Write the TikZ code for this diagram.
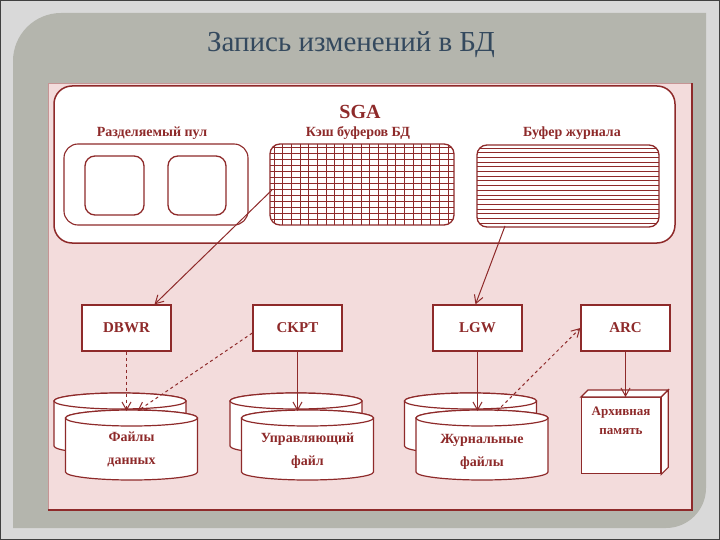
\documentclass[tikz,border=0pt]{standalone}
\usepackage{fontspec}
\setmainfont{Liberation Serif}
\usetikzlibrary{calc, positioning}
\usetikzlibrary{arrows.meta}

\definecolor{frameline}{HTML}{8E2A2A}
\definecolor{slidegray}{HTML}{B4B5AD}
\definecolor{slideedge}{HTML}{D9D9D9}
\definecolor{panelpink}{HTML}{F3DCDC}
\definecolor{titleblue}{HTML}{34495E}

\begin{document}
\begin{tikzpicture}[x=1pt, y=-1pt,
  proc/.style={draw=frameline, line width=1.3pt, fill=white, minimum width=89pt, minimum height=46pt, text=frameline, font=\bfseries\fontsize{15}{15}\selectfont},
  lbl/.style={text=frameline, font=\bfseries\fontsize{14}{23}\selectfont, align=center},
  disk/.style={draw=frameline, line width=1.2pt, fill=white},
  conn/.style={draw=frameline, line width=1pt, -{Straight Barb[length=8pt, width=9pt]}}]
\useasboundingbox (0,0) rectangle (720,540);
% slide background
\fill[slideedge] (0,0) rectangle (720,540);
\draw[gray!50!black, line width=1.5pt] (0,0) rectangle (720,540);
\fill[slidegray] (13,528) -- (13,61) arc[start angle=180, end angle=270, radius=48] -- (706,13) -- (706,488) arc[start angle=0, end angle=90, radius=40] -- cycle;
\node[text=titleblue, font=\fontsize{29}{29}\selectfont] (title) at (351,45) {Запись изменений в БД};
% pink panel
\fill[panelpink] (48,83) rectangle (692,510);
\draw[frameline!50, line width=0.6pt] (48,510) -- (48,83) -- (692,83);
\draw[frameline, line width=1.2pt] (48,510) -- (692,510) -- (692,83);
% SGA
\node[draw=frameline, line width=1.5pt, fill=white, rounded corners=18pt, minimum width=621pt, minimum height=157pt] (sga) at (364.5,164.5) {};
\node[lbl, font=\bfseries\fontsize{20}{20}\selectfont] (sgalabel) at (360,112) {SGA};
\node[lbl] (poollabel) at (152,133) {Разделяемый пул};
\node[lbl] (cachelabel) at (358,133) {Кэш буферов БД};
\node[lbl] (loglabel) at (572,133) {Буфер журнала};
\node[draw=frameline, line width=1.1pt, rounded corners=14pt, minimum width=184pt, minimum height=81pt] (pool) at (156,184.5) {};
\node[draw=frameline, line width=1.3pt, rounded corners=10pt, minimum width=59pt, minimum height=59pt] (poolA) at (114.5,185.5) {};
\node[draw=frameline, line width=1.3pt, rounded corners=10pt, minimum width=58pt, minimum height=59pt] (poolB) at (197,185.5) {};
\begin{scope}
\clip[rounded corners=10pt] (270,144) rectangle (454,225);
\foreach \gx in {274,282.7,...,454} \draw[frameline, line width=0.9pt] (\gx,144) -- (\gx,225);
\foreach \gy in {147,153,...,225} \draw[frameline, line width=0.9pt] (270,\gy) -- (454,\gy);
\end{scope}
\node[draw=frameline, line width=1.3pt, rounded corners=10pt, minimum width=184pt, minimum height=81pt] (cache) at (362,184.5) {};
\begin{scope}
\clip[rounded corners=10pt] (477,145) rectangle (659,227);
\foreach \gy in {148,152.7,...,227} \draw[frameline, line width=0.9pt] (477,\gy) -- (659,\gy);
\end{scope}
\node[draw=frameline, line width=1.3pt, rounded corners=10pt, minimum width=182pt, minimum height=82pt] (logbuf) at (568,186) {};
% processes
\node[proc] (dbwr) at (126.5,328) {DBWR};
\node[proc] (ckpt) at (297.5,328) {CKPT};
\node[proc] (lgw) at (477.5,328) {LGW};
\node[proc] (archp) at (625.5,328) {ARC};
% files
\foreach \cx/\nm in {131.5/data, 307.5/ctrl, 482/redo} {
  \foreach \dx/\ty/\by in {-11.5/401/446, 0/418/472} {
    \filldraw[disk] ({\cx+\dx-66},\ty) -- ({\cx+\dx-66},\by) arc[start angle=180, end angle=0, x radius=66, y radius=8] -- ({\cx+\dx+66},\ty) arc[start angle=0, end angle=-180, x radius=66, y radius=8] -- cycle;
    \draw[disk] ({\cx+\dx},\ty) ellipse[x radius=66, y radius=8];
  }
  \coordinate (\nm) at (\cx,411);
}
\node[lbl] (datatext) at (131.5,449) {Файлы\\данных};
\node[lbl] (ctrltext) at (307.5,451) {Управляющий\\файл};
\node[lbl] (redotext) at (482,452) {Журнальные\\файлы};
\node[draw=frameline, line width=1.3pt, fill=white, minimum width=79pt, minimum height=76pt, anchor=north west] (arch) at (581,397) {};
\filldraw[disk] (arch.north west) -- ++(7,-7) -- ($(arch.north east)+(7,-7)$) -- (arch.north east) -- cycle;
\filldraw[disk] (arch.north east) -- ++(7,-7) -- ($(arch.south east)+(7,-7)$) -- (arch.south east) -- cycle;
\node[lbl, font=\bfseries\fontsize{13}{19}\selectfont] (archtext) at (621,421) {Архивная\\память};
% connectors
\coordinate (cachepick) at (272,190);
\coordinate (logpick) at (505,226);
\draw[conn] (cachepick) -- ([xshift=28pt]dbwr.north);
\draw[conn] (logpick) -- ([xshift=-2pt]lgw.north);
\draw[conn, dashed] (dbwr.south) -- (dbwr.south |- data);
\draw[conn, dashed] ([yshift=-5pt]ckpt.west) -- ([xshift=6pt]data);
\draw[conn] (ckpt.south) -- (ckpt.south |- ctrl);
\draw[conn] (lgw.south) -- (lgw.south |- redo);
\draw[conn, dashed] ([xshift=15pt]redo) -- (archp.west);
\draw[conn] (archp.south) -- (archp.south |- arch.north);
\end{tikzpicture}
\end{document}
